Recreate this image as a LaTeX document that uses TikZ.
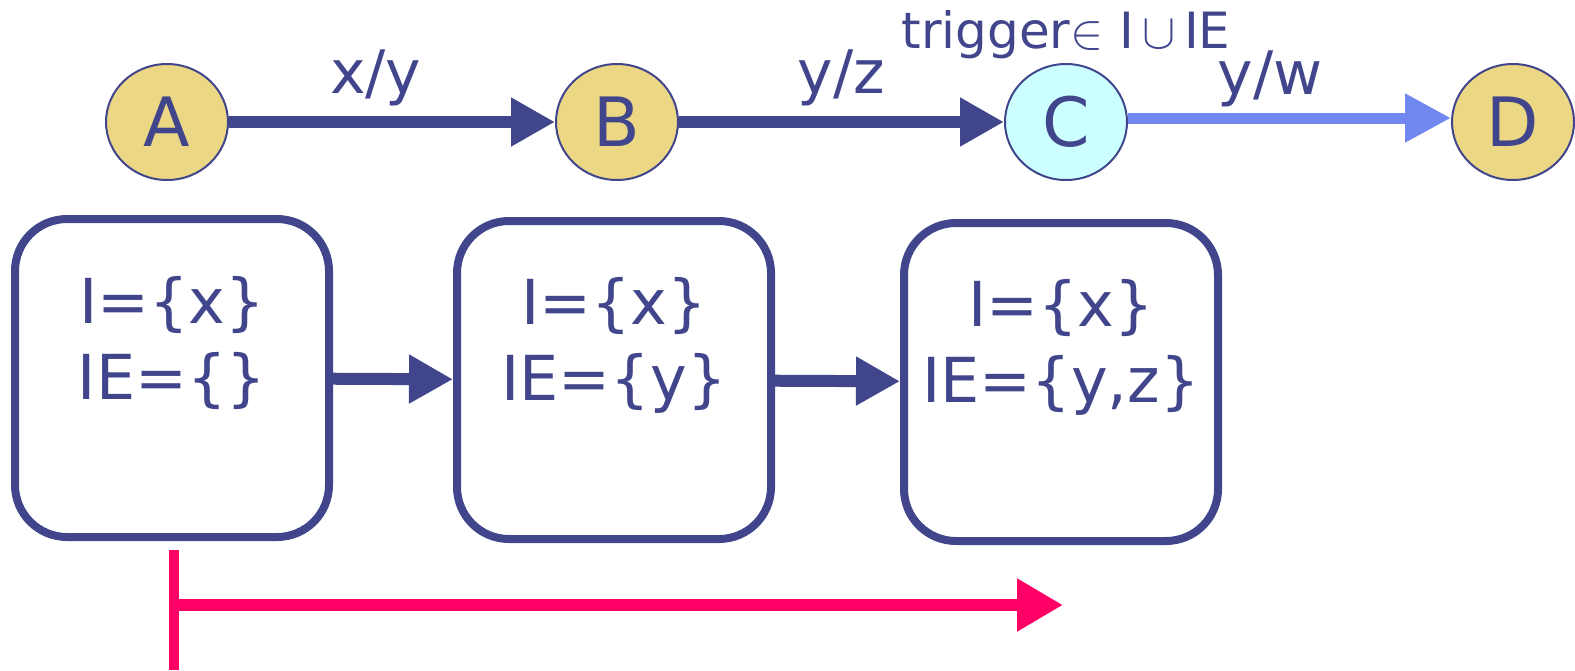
\documentclass[tikz,border=0pt]{standalone}
\usepackage{fontspec}
\setmainfont{DejaVu Sans}
\usetikzlibrary{arrows.meta,positioning,shapes.geometric}
\definecolor{navy}{RGB}{65,70,140}
\definecolor{sand}{RGB}{235,215,132}
\definecolor{paleaqua}{RGB}{204,255,255}
\definecolor{skyline}{RGB}{112,136,240}
\definecolor{hotpink}{RGB}{255,0,102}

\tikzset{
  state/.style={ellipse, draw=navy, line width=1pt, fill=sand, minimum width=61pt,
    minimum height=58pt, inner sep=0pt, text=navy, font=\fontsize{34}{40}\selectfont},
  stepbox/.style={draw=navy, line width=4pt, rounded corners=26pt, minimum width=157pt,
    minimum height=159pt, fill=white},
  settext/.style={text=navy, align=center, inner sep=0pt, font=\fontsize{31}{38}\selectfont},
  lbl/.style={text=navy, inner sep=0pt, font=\fontsize{30}{34}\selectfont},
  trans/.style={draw=navy, line width=6pt, -{Triangle[length=22pt,width=23pt]}},
  softtrans/.style={draw=skyline, line width=5.5pt, -{Triangle[length=23pt,width=23pt]}},
  timeline/.style={draw=hotpink, line width=6pt},
}

\begin{document}
\begin{tikzpicture}[x=0.5pt, y=-0.5pt]
  \useasboundingbox (0,0) rectangle (1575,670);

  % states
  \node[state] (A) at (167,122) {A};
  \node[state] (B) at (617,122) {B};
  \node[state, fill=paleaqua] (C) at (1066,122) {C};
  \node[state] (D) at (1513,122) {D};

  \draw[trans] (A) -- node[lbl, above=5pt, pos=0.45] (lxy) {x/y} (B);
  \draw[trans] (B) -- node[lbl, above=5pt] (lyz) {y/z} (C);
  \draw[softtrans] ([yshift=2pt]C.east) -- node[lbl, above=3pt, pos=0.44] (lyw) {y/w} ([yshift=2pt]D.west);
  \node[lbl, font=\fontsize{25}{30}\selectfont, above=2pt of C] (trig)
    {trigger$\in$ I\,$\cup$\,IE};

  % sets
  \node[stepbox] (b1) at (172,378) {};
  \node[stepbox] (b2) at (614,380) {};
  \node[stepbox] (b3) at (1061,382) {};
  \node[settext] (t1) at ([yshift=17.5pt]b1.center) {I=\{x\}\\IE=\{\}};
  \node[settext] (t2) at ([yshift=17.5pt]b2.center) {I=\{x\}\\IE=\{y\}};
  \node[settext] (t3) at ([yshift=17.5pt]b3.center) {I=\{x\}\\IE=\{y,z\}};

  \draw[trans] (b1) -- (b2);
  \draw[trans] (b2) -- (b3);

  % time
  \coordinate (bartop) at (174,550);
  \coordinate (barbot) at (174,670);
  \coordinate (tstart) at (174,605);
  \coordinate (tend) at (1063,605);
  \draw[timeline, line width=5pt] (bartop) -- (barbot);
  \draw[timeline, -{Triangle[length=23pt,width=25pt]}] (tstart) -- (tend);
\end{tikzpicture}
\end{document}
